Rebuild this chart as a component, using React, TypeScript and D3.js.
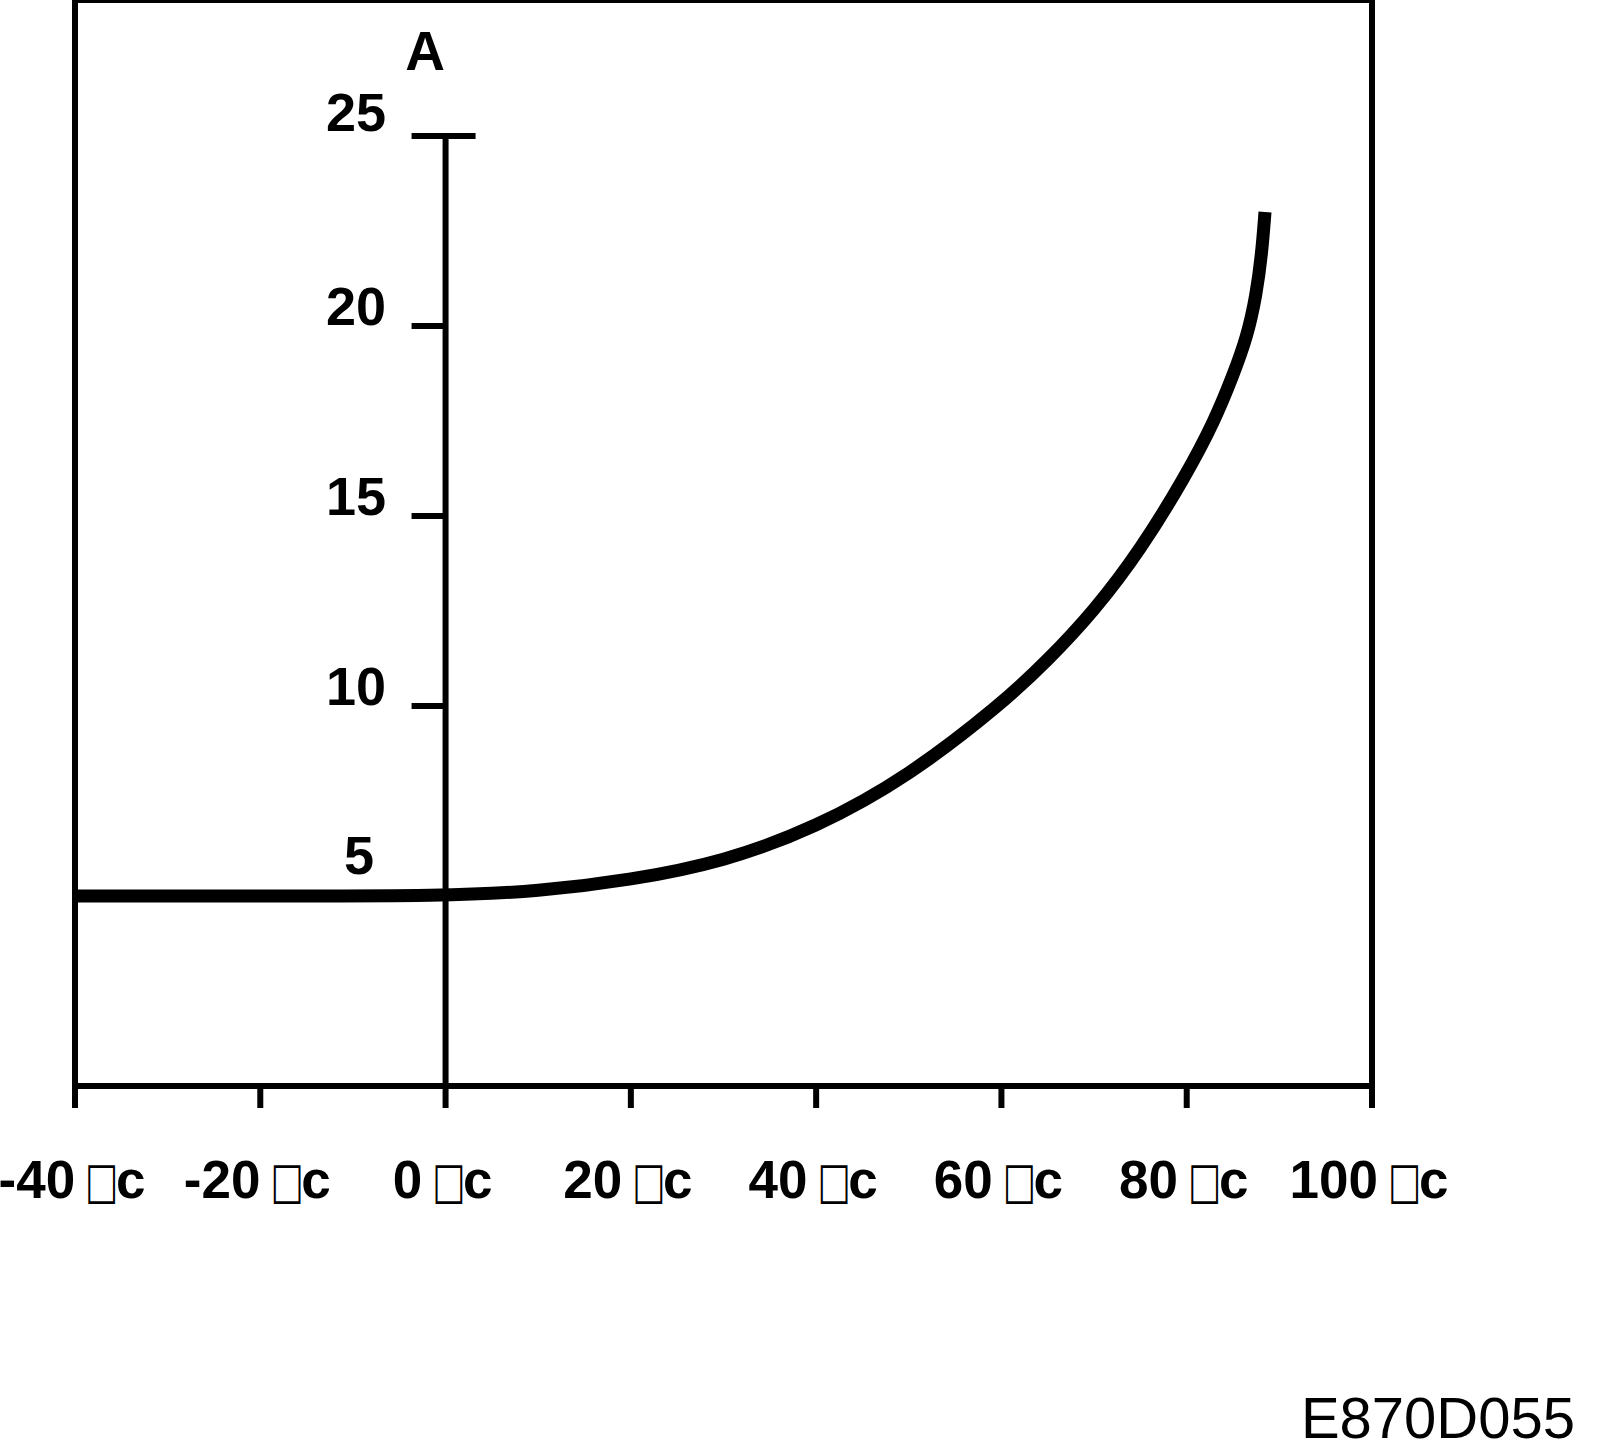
import React, { useEffect, useRef } from "react";
import * as d3 from "d3";

// temperature (°C) vs current (A)
const temps = [-40, -20, 0, 10, 20, 30, 40, 50, 60, 65, 70, 75, 80, 83, 85, 86.5, 87.5, 88.1, 88.45];
const amps = [5.0, 5.0, 5.0, 5.12, 5.42, 5.9, 6.8, 8.15, 10.05, 11.2, 12.5, 14.1, 16.1, 17.5, 18.7, 19.7, 20.8, 21.9, 23.0];

const xTicks = [-40, -20, 0, 20, 40, 60, 80, 100];
const yTicks = [10, 15, 20, 25];
const yLabels = [5, 10, 15, 20, 25];
const unitGlyph = "\u25A1";
const figureCode = "E870D055";

const W = 1600;
const H = 1454;

export default function App() {
  const svgRef = useRef<SVGSVGElement>(null);

  useEffect(() => {
    if (!svgRef.current) return;
    const svg = d3.select(svgRef.current);
    svg.selectAll("*").remove();

    const x = d3.scaleLinear().domain([-40, 100]).range([75, 1372]);
    const y = d3.scaleLinear().domain([0, 25]).range([1086, 136]);
    const font = "'Liberation Sans', Arial, sans-serif";

    svg.append("rect").attr("width", W).attr("height", H).attr("fill", "#fff");

    // frame
    svg
      .append("path")
      .attr("d", `M${x(-40)},${y(0)}V0H${x(100)}V${y(0)}Z`)
      .attr("fill", "none")
      .attr("stroke", "#000")
      .attr("stroke-width", 6);

    // x ticks
    svg
      .selectAll(".xt")
      .data(xTicks)
      .enter()
      .append("line")
      .attr("x1", (d) => x(d))
      .attr("x2", (d) => x(d))
      .attr("y1", y(0))
      .attr("y2", y(0) + 22)
      .attr("stroke", "#000")
      .attr("stroke-width", 6);

    // x labels: number, box glyph, "c" laid out side by side
    const sx = 0.87;
    const sy = 1.27;
    svg
      .selectAll(".xl")
      .data(xTicks)
      .enter()
      .append("g")
      .attr("transform", (d) => `translate(${x(d) - 3},1198)`)
      .each(function (d) {
        const g = d3.select(this);
        const num = g
          .append("text")
          .style("font-family", font)
          .style("font-weight", "bold")
          .style("font-size", "53px")
          .text(`${d}`);
        const box = g
          .append("text")
          .attr("transform", `scale(${sx},${sy})`)
          .style("font-family", "'DejaVu Sans'")
          .style("font-size", "40px")
          .text(unitGlyph);
        const c = g
          .append("text")
          .style("font-family", font)
          .style("font-weight", "bold")
          .style("font-size", "53px")
          .text("c");
        const wn = (num.node() as SVGTextElement).getComputedTextLength();
        const wb = (box.node() as SVGTextElement).getComputedTextLength() * sx;
        const wc = (c.node() as SVGTextElement).getComputedTextLength();
        const gap = 10;
        const total = wn + gap + wb - 2 + wc;
        let cx = -total / 2;
        num.attr("x", cx);
        cx += wn + gap;
        box.attr("x", cx / sx);
        cx += wb - 2;
        c.attr("x", cx);
      });

    // y axis at 0 °C
    svg
      .append("line")
      .attr("x1", x(0))
      .attr("x2", x(0))
      .attr("y1", y(25))
      .attr("y2", y(0))
      .attr("stroke", "#000")
      .attr("stroke-width", 6);

    svg
      .selectAll(".yt")
      .data(yTicks)
      .enter()
      .append("line")
      .attr("x1", x(0) - 34)
      .attr("x2", (d) => (d === 25 ? x(0) + 30 : x(0)))
      .attr("y1", (d) => y(d))
      .attr("y2", (d) => y(d))
      .attr("stroke", "#000")
      .attr("stroke-width", 6);

    svg
      .selectAll(".yl")
      .data(yLabels)
      .enter()
      .append("text")
      .attr("x", (d) => (d === 5 ? 374 : 386))
      .attr("y", (d) => (d === 5 ? y(d) - 22 : d === 25 ? y(d) - 5 : y(d) - 1))
      .attr("text-anchor", "end")
      .style("font-family", font)
      .style("font-weight", "bold")
      .style("font-size", "54px")
      .text((d) => d);

    svg
      .append("text")
      .attr("x", 425)
      .attr("y", 70)
      .attr("text-anchor", "middle")
      .style("font-family", font)
      .style("font-weight", "bold")
      .style("font-size", "55px")
      .text("A");

    // curve
    const line = d3
      .line<number>()
      .x((_d, i) => x(temps[i]))
      .y((d) => y(d))
      .curve(d3.curveBasis);

    svg
      .append("path")
      .attr("d", line(amps) || "")
      .attr("fill", "none")
      .attr("stroke", "#000")
      .attr("stroke-width", 13);

    svg
      .append("text")
      .attr("x", 1575)
      .attr("y", 1438)
      .attr("text-anchor", "end")
      .style("font-family", font)
      .style("font-size", "58px")
      .text(figureCode);
  }, []);

  return (
    <svg
      ref={svgRef}
      width={W}
      height={H}
      style={{ position: "absolute", left: 0, top: 0 }}
    />
  );
}
